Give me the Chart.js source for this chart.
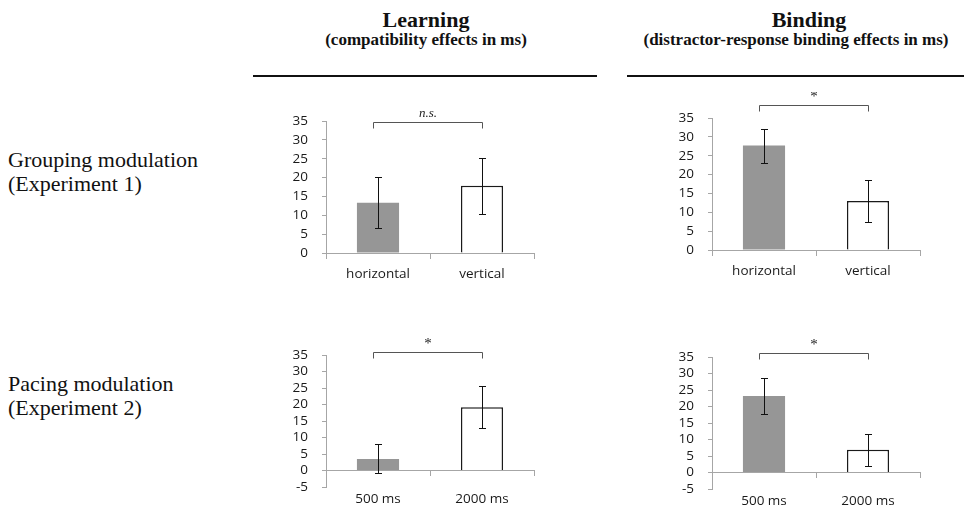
<!DOCTYPE html>
<html>
<head>
<meta charset="utf-8">
<script src="https://cdn.jsdelivr.net/npm/chart.js@4.4.0/dist/chart.umd.min.js"></script>
<style>
  body { margin: 0; background: #fff; width: 964px; height: 518px; position: relative; overflow: hidden;
         font-family: "Liberation Serif", "Times New Roman", serif; color: #111; }
  .abs { position: absolute; white-space: nowrap; }
  .head { font-weight: bold; text-align: center; width: 400px; }
  .rule { position: absolute; height: 1.5px; background: #111; }
  canvas { position: absolute; }
</style>
</head>
<body>

<div class="abs head" style="left:226px; top:9px; font-size:22px; line-height:22px;">Learning</div>
<div class="abs head" style="left:226px; top:31px; font-size:17px; line-height:17px;">(compatibility effects in ms)</div>
<div class="abs head" style="left:609px; top:9px; font-size:22px; line-height:22px;">Binding</div>
<div class="abs head" style="left:596px; top:31px; font-size:17px; line-height:17px;">(distractor-response binding effects in ms)</div>
<div class="rule" style="left:253px; width:344px; top:75px;"></div>
<div class="rule" style="left:627px; width:337px; top:75px;"></div>

<div class="abs" style="left:8px; top:148px; font-size:22px; line-height:24px;">Grouping modulation<br>(Experiment 1)</div>
<div class="abs" style="left:8px; top:372px; font-size:22px; line-height:24px;">Pacing modulation<br>(Experiment 2)</div>

<canvas id="learnGroup" width="281" height="190" style="left:270px; top:95px;"></canvas>
<canvas id="bindGroup" width="281" height="190" style="left:656px; top:92px;"></canvas>
<canvas id="learnPace" width="281" height="190" style="left:270px; top:329px;"></canvas>
<canvas id="bindPace" width="281" height="190" style="left:656px; top:331px;"></canvas>

<script>
// categories
const groupingLabels = ['horizontal', 'vertical'];
const pacingLabels = ['500 ms', '2000 ms'];

// means and error bar half-widths (ms)
const learningGrouping = [13.3, 17.8];
const learningGroupingErr = [6.8, 7.4];
const bindingGrouping = [27.7, 13.0];
const bindingGroupingErr = [4.5, 5.5];
const learningPacing = [3.5, 19.2];
const learningPacingErr = [4.4, 6.3];
const bindingPacing = [23.2, 6.9];
const bindingPacingErr = [5.4, 4.8];

// y axis ranges
const groupingRange = [0, 35];
const pacingRange = [-5, 35];

// significance labels, one per panel
const significance = ['n.s.', '*', '*', '*'];

Chart.defaults.maintainAspectRatio = false;
Chart.defaults.responsive = false;
Chart.defaults.animation = false;

const errorBars = {
    id: 'errorBars',
    afterDatasetsDraw(chart) {
        const ds = chart.data.datasets[0];
        const meta = chart.getDatasetMeta(0);
        const y = chart.scales.y;
        const ctx = chart.ctx;
        ctx.save();
        ctx.strokeStyle = '#111';
        ctx.lineWidth = 1;
        meta.data.forEach((bar, i) => {
            const top = Math.round(y.getPixelForValue(ds.data[i] + ds.errs[i])) + 0.5;
            const bot = Math.round(y.getPixelForValue(ds.data[i] - ds.errs[i])) + 0.5;
            const x = Math.round(bar.x) + 0.5;
            ctx.beginPath();
            ctx.moveTo(x, top); ctx.lineTo(x, bot);
            ctx.moveTo(x - 3.5, top); ctx.lineTo(x + 3.5, top);
            ctx.moveTo(x - 3.5, bot); ctx.lineTo(x + 3.5, bot);
            ctx.stroke();
        });
        ctx.restore();
    }
};

const bracket = {
    id: 'bracket',
    afterDraw(chart, args, opts) {
        const meta = chart.getDatasetMeta(0);
        const ctx = chart.ctx;
        const yy = Math.round(chart.scales.y.getPixelForValue(opts.level)) + 0.5;
        const x1 = Math.round(meta.data[0].x) - 4.5;
        const x2 = Math.round(meta.data[1].x) + 0.5;
        ctx.save();
        ctx.strokeStyle = '#555';
        ctx.lineWidth = 1;
        ctx.beginPath();
        ctx.moveTo(x1, yy + 6); ctx.lineTo(x1, yy); ctx.lineTo(x2, yy); ctx.lineTo(x2, yy + 6);
        ctx.stroke();
        ctx.fillStyle = '#222';
        ctx.textAlign = 'center';
        ctx.textBaseline = 'bottom';
        if (opts.text === '*') {
            ctx.font = '15px "Liberation Serif", serif';
            ctx.fillText(opts.text, (x1 + x2) / 2, yy - 1);
        } else {
            ctx.font = 'italic 13px "Liberation Serif", serif';
            ctx.fillText(opts.text, (x1 + x2) / 2, yy - 2);
        }
        ctx.restore();
    }
};

function makeChart(id, labels, means, errs, range, sig, level, labelPad) {
    const tickFont = { family: '"Open Sans", sans-serif', size: 13.5 };
    return new Chart(document.getElementById(id), {
        type: 'bar',
        data: {
            labels: labels,
            datasets: [{
                data: means,
                errs: errs,
                xAxisID: 'x',
                yAxisID: 'y',
                backgroundColor: ['#969696', '#ffffff'],
                borderColor: ['#969696', '#1a1a1a'],
                borderWidth: [0, 1.5],
                categoryPercentage: 1,
                barPercentage: 0.405,
            }]
        },
        options: {
            layout: { padding: { left: 0, right: 17, top: 26, bottom: 0 } },
            scales: {
                x: {
                    type: 'category',
                    position: { y: 0 },
                    offset: true,
                    grid: { display: true, drawOnChartArea: false, offset: true, tickLength: 5, color: '#a6a6a6' },
                    border: { display: true, color: '#a6a6a6' },
                    ticks: { display: false },
                },
                xl: {
                    type: 'category',
                    labels: labels,
                    position: 'bottom',
                    offset: true,
                    grid: { display: false, drawTicks: false },
                    border: { display: false },
                    ticks: { padding: labelPad, color: '#1a1a1a', font: tickFont, maxRotation: 0 },
                    afterFit(s) { s.height = 32; },
                },
                y: {
                    min: range[0],
                    max: range[1],
                    ticks: { stepSize: 5, padding: 14, autoSkip: false, color: '#1a1a1a', font: tickFont },
                    grid: { display: true, drawOnChartArea: false, tickLength: 4, color: '#a6a6a6' },
                    border: { display: true, color: '#a6a6a6' },
                    afterFit(s) { s.width = 56; },
                }
            },
            plugins: {
                legend: { display: false },
                tooltip: { enabled: false },
                bracket: { text: sig, level: level },
            }
        },
        plugins: [errorBars, bracket]
    });
}

makeChart('learnGroup', groupingLabels, learningGrouping, learningGroupingErr, groupingRange, significance[0], 34.7, 13);
makeChart('bindGroup', groupingLabels, bindingGrouping, bindingGroupingErr, groupingRange, significance[1], 38.4, 13);
makeChart('learnPace', pacingLabels, learningPacing, learningPacingErr, pacingRange, significance[2], 35.8, 4);
makeChart('bindPace', pacingLabels, bindingPacing, bindingPacingErr, pacingRange, significance[3], 36.2, 4);
</script>
</body>
</html>
